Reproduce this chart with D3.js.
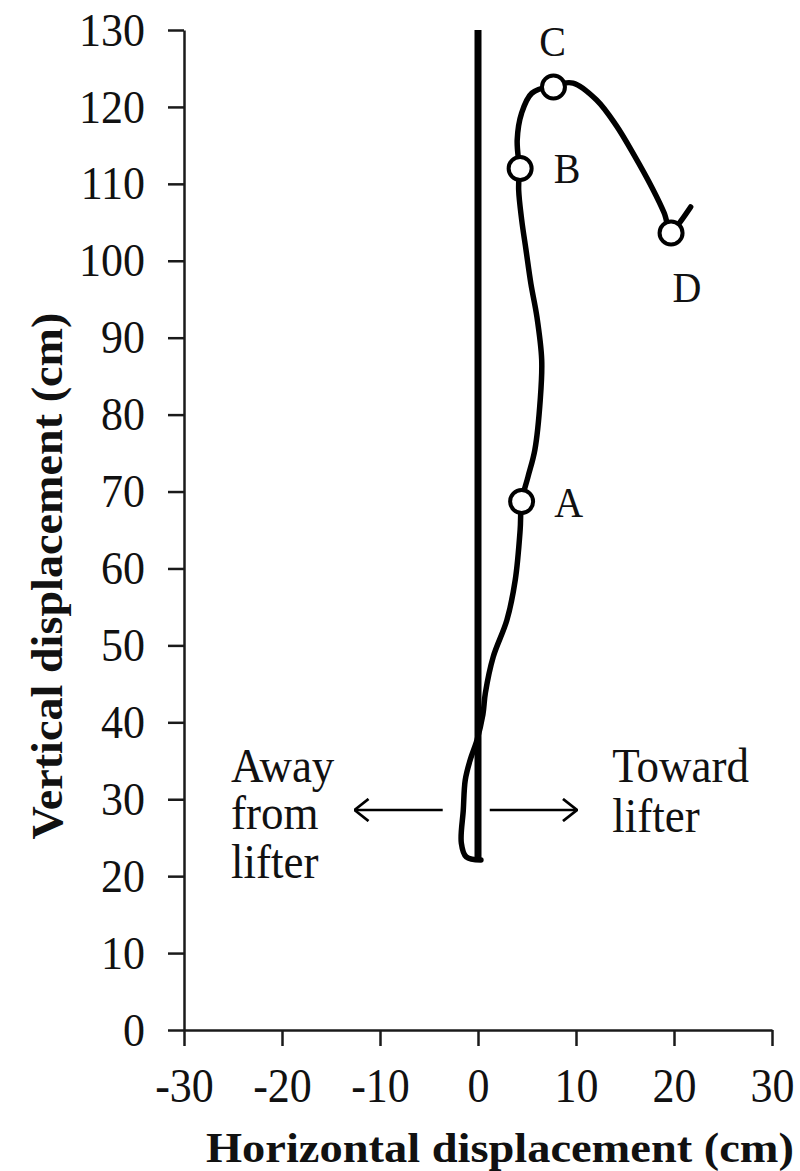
<!DOCTYPE html>
<html>
<head>
<meta charset="utf-8">
<script src="https://cdn.jsdelivr.net/npm/d3@7"></script>
<style>
  body { margin: 0; background: #fff; }
  svg { display: block; }
  text { font-family: "Liberation Serif", "Times New Roman", serif; fill: #111; }
</style>
</head>
<body>
<div id="svg-container"></div>
<script>
// ---------------- data ----------------
const xTicks = [-30, -20, -10, 0, 10, 20, 30];
const yTicks = [0, 10, 20, 30, 40, 50, 60, 70, 80, 90, 100, 110, 120, 130];

// bar path (cm)
const pathX = [0.3, -1.2, -1.7, -1.5, -1.3, -0.8, -0.1, 0.5, 0.75, 1.55, 2.95, 3.8, 4.3, 4.45, 5.1, 5.8, 6.35, 6.5, 6.0, 5.4, 4.9, 4.45, 4.15, 4.2, 4.0, 4.45, 5.5, 7.7, 9.7, 12.1, 14.1, 15.9, 17.8, 19.0, 19.7, 20.6, 21.7];
const pathY = [22.1, 22.5, 24.3, 28.6, 32.5, 35.1, 37.7, 41.0, 43.8, 48.5, 53.3, 58.5, 65.0, 68.7, 71.9, 75.4, 81.9, 87.1, 92.8, 97.0, 101.4, 105.4, 109.2, 112.0, 115.7, 119.2, 121.8, 122.8, 123.1, 120.9, 117.6, 113.8, 109.4, 106.2, 103.6, 105.0, 107.0];

const pointLabels = ["A", "B", "C", "D"];
const pointX = [4.45, 4.3, 7.7, 19.7];
const pointY = [68.7, 112.0, 122.6, 103.6];

// vertical reference line at x = 0
const refX = [0, 0];
const refY = [22.1, 130];

// ---------------- layout ----------------
const width = 800, height = 1171;
const margin = { top: 30, right: 28, bottom: 141, left: 184 };

const svg = d3.select("#svg-container").append("svg")
  .attr("width", width).attr("height", height);

const xScale = d3.scaleLinear().domain([-30, 30]).range([margin.left, width - margin.right]);
const yScale = d3.scaleLinear().domain([0, 130]).range([height - margin.bottom, margin.top]);

// axes
const xAxis = d3.axisBottom(xScale).tickValues(xTicks).tickSize(16).tickSizeOuter(0);
const yAxis = d3.axisLeft(yScale).tickValues(yTicks).tickSize(16).tickSizeOuter(0).tickPadding(23);

const gx = svg.append("g")
  .attr("transform", `translate(0,${height - margin.bottom})`)
  .call(xAxis);
const gy = svg.append("g")
  .attr("transform", `translate(${margin.left},0)`)
  .call(yAxis);

[gx, gy].forEach(g => {
  g.selectAll(".domain, line").attr("stroke", "#1a1a1a").attr("stroke-width", 2.5);
  g.selectAll("text").style("font-size", "44px").attr("fill", "#111");
});
gx.selectAll("text").attr("y", 0).attr("dy", null)
  .attr("transform", "translate(0,72) scale(1,1.1)")
  .text(d => d < 0 ? "-" + Math.abs(d) : d);
gy.selectAll("text").attr("transform", "scale(1,1.07)");

// axis titles
svg.append("text")
  .attr("x", 500).attr("y", 1162)
  .attr("text-anchor", "middle")
  .attr("textLength", 588).attr("lengthAdjust", "spacingAndGlyphs")
  .style("font-size", "42px").style("font-weight", "bold")
  .text("Horizontal displacement  (cm)");

svg.append("text")
  .attr("transform", "translate(62,576) rotate(-90)")
  .attr("text-anchor", "middle")
  .attr("textLength", 527).attr("lengthAdjust", "spacingAndGlyphs")
  .style("font-size", "44px").style("font-weight", "bold")
  .text("Vertical displacement  (cm)");

// reference line
const line = d3.line().x(d => xScale(d[0])).y(d => yScale(d[1]));
svg.append("path")
  .datum(refX.map((v, i) => [v, refY[i]]))
  .attr("d", line)
  .attr("stroke", "#000").attr("stroke-width", 7).attr("fill", "none");

// bar path
const curve = d3.line()
  .curve(d3.curveCatmullRom.alpha(0.5))
  .x(d => xScale(d[0])).y(d => yScale(d[1]));
svg.append("path")
  .datum(pathX.map((v, i) => [v, pathY[i]]))
  .attr("d", curve)
  .attr("stroke", "#000").attr("stroke-width", 5.5)
  .attr("stroke-linejoin", "round").attr("stroke-linecap", "round")
  .attr("fill", "none");

// phase markers
const labelOffset = { A: [47, 15], B: [47, 15], C: [-1, -31], D: [16, 69] };
const pts = pointLabels.map((l, i) => ({ l, x: pointX[i], y: pointY[i] }));
svg.selectAll(".pt").data(pts).join("circle")
  .attr("cx", d => xScale(d.x)).attr("cy", d => yScale(d.y)).attr("r", 11.5)
  .attr("fill", "#fff").attr("stroke", "#000").attr("stroke-width", 4);
svg.selectAll(".pt-label").data(pts).join("text")
  .attr("transform", d => `translate(${xScale(d.x) + labelOffset[d.l][0]},${yScale(d.y) + labelOffset[d.l][1]}) scale(1,1.08)`)
  .attr("text-anchor", "middle")
  .style("font-size", "40px")
  .text(d => d.l);

// direction arrows
svg.append("defs").append("marker")
  .attr("id", "head").attr("viewBox", "0 0 16 24")
  .attr("refX", 15).attr("refY", 12)
  .attr("markerWidth", 16).attr("markerHeight", 24)
  .attr("markerUnits", "userSpaceOnUse").attr("orient", "auto")
  .append("path").attr("d", "M1,1 L15,12 L1,23")
  .attr("fill", "none").attr("stroke", "#000").attr("stroke-width", 2.8);

const arrows = [[-3.6, -12.6], [1.2, 10.1]];
svg.selectAll(".arrow").data(arrows).join("path")
  .attr("d", d => line([[d[0], 28.6], [d[1], 28.6]]))
  .attr("stroke", "#000").attr("stroke-width", 2.4).attr("fill", "none")
  .attr("marker-end", "url(#head)");

// annotations (one text block each, lines as tspans)
const notes = [
  { lines: ["Away", "from", "lifter"], x: -25.2, y: 32.3, gap: [0, 44, 45] },
  { lines: ["Toward", "lifter"], x: 13.7, y: 32.3, gap: [0, 47] }
];
notes.forEach(n => {
  svg.append("text")
    .attr("transform", `translate(${xScale(n.x)},${yScale(n.y)}) scale(1,1.08)`)
    .style("font-size", "45px")
    .selectAll("tspan").data(n.lines).join("tspan")
    .attr("x", 0).attr("dy", (d, i) => n.gap[i])
    .text(d => d);
});
</script>
</body>
</html>
